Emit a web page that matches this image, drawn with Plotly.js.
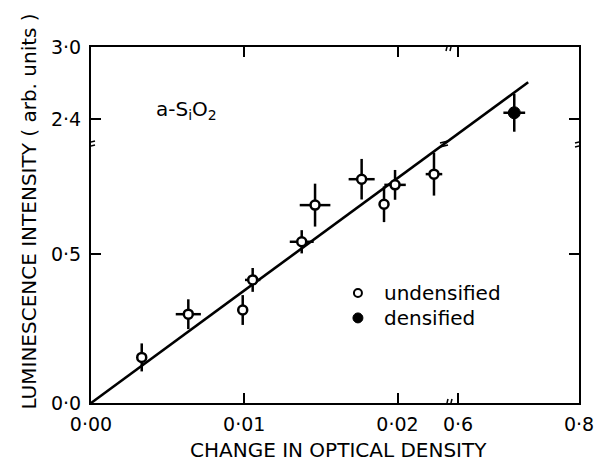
<!DOCTYPE html>
<html>
<head>
<meta charset="utf-8">
<script src="https://cdn.plot.ly/plotly-3.0.1.min.js"></script>
<style>html,body{margin:0;padding:0;background:#fff;}#chart{width:602px;height:463px;}</style>
</head>
<body>
<div id="chart"></div>
<script>
// ---- data ----
var undensifiedX = [0.00331, 0.00635, 0.0099, 0.01055, 0.01375, 0.01462, 0.01766, 0.01912, 0.01984, 0.02238];
var undensifiedY = [0.153, 0.298, 0.312, 0.413, 0.541, 0.664, 0.751, 0.667, 0.732, 0.768];
var undensifiedErrX = [0, 0.00082, 0, 0.0005, 0.00078, 0.001, 0.00085, 0, 0.0007, 0.00054];
var undensifiedErrY = [0.047, 0.050, 0.050, 0.040, 0.039, 0.072, 0.068, 0.060, 0.050, 0.072];
var densifiedX = [0.693];
var densifiedY = [2.452];
var densifiedErrX = [0.018];
var densifiedErrY = [0.158];
var fitX = [0, 0.716];
var fitY = [0, 2.706];
var xTickValues = [0, 0.01, 0.02, 0.6, 0.8];
var xTickLabels = ['0·00', '0·01', '0·02', '0·6', '0·8'];
var yTickValues = [0, 0.5, 2.4, 3.0];
var yTickLabels = ['0·0', '0·5', '2·4', '3·0'];
var legendLabels = ['undensified', 'densified'];

// ---- broken-axis mapping (data -> display coordinate) ----
var U06 = 2.3948, U08 = 3.1843;   // display positions of x = 0.6, 0.8
var V24 = 0.9530, V30 = 1.1946;   // display positions of y = 2.4, 3.0
var XB = 2.336, YB = 0.869;       // break positions
function fx(x){ return x < 0.3 ? x * 100 : U06 + (x - 0.6) * (U08 - U06) / 0.2; }
function fy(y){ return y < 1.5 ? y : V24 + (y - 2.4) * (V30 - V24) / 0.6; }
function ex(x, e){ return fx(x + e) - fx(x); }
function ey(y, e){ return fy(y + e) - fy(y); }

var FONT = 'DejaVu Sans';
var traces = [
  {x: fitX.map(fx), y: fitY.map(fy), mode: 'lines', line: {color: '#000', width: 2.6}, showlegend: false, hoverinfo: 'skip'},
  {x: undensifiedX.map(fx), y: undensifiedY.map(fy), mode: 'markers', name: legendLabels[0], showlegend: false,
   marker: {symbol: 'circle', size: 9, color: '#fff', line: {color: '#000', width: 2.5}},
   error_x: {type: 'data', array: undensifiedX.map(function(v,i){return ex(v, undensifiedErrX[i]);}), color: '#000', thickness: 2.5, width: 0},
   error_y: {type: 'data', array: undensifiedY.map(function(v,i){return ey(v, undensifiedErrY[i]);}), color: '#000', thickness: 2.5, width: 0}},
  {x: densifiedX.map(fx), y: densifiedY.map(fy), mode: 'markers', name: legendLabels[1], showlegend: false,
   marker: {symbol: 'circle', size: 12, color: '#000', line: {color: '#000', width: 1}},
   error_x: {type: 'data', array: densifiedX.map(function(v,i){return ex(v, densifiedErrX[i]);}), color: '#000', thickness: 2.5, width: 0},
   error_y: {type: 'data', array: densifiedY.map(function(v,i){return ey(v, densifiedErrY[i]);}), color: '#000', thickness: 2.5, width: 0}}
];

function brk(xa, ya, vertical){
  var s = [];
  [-2, 2].forEach(function(d){
    var sh = {type: 'line', xref: 'x', yref: 'y', xsizemode: 'pixel', ysizemode: 'pixel',
              xanchor: xa, yanchor: ya, line: {color: '#000', width: 1.5}};
    if (vertical){ sh.x0 = d - 1; sh.x1 = d + 1; sh.y0 = -4; sh.y1 = 4; }
    else { sh.x0 = -4; sh.x1 = 4; sh.y0 = d - 1; sh.y1 = d + 1; }
    s.push(sh);
  });
  return s;
}
var fitBreakU = fx(fitX[1]) * YB / fy(fitY[1]);
var shapes = [].concat(
  brk(XB, 0, true), brk(XB, V30, true),
  brk(0, YB, false), brk(U08, YB, false),
  brk(fitBreakU, YB, false)
);
// hand-placed key (legend)
var keyX = 0.547, keyTextX = 0.596, keyY = [0.309, 0.239];
shapes.push({type: 'circle', xref: 'paper', yref: 'paper', xsizemode: 'pixel', ysizemode: 'pixel',
  xanchor: keyX, yanchor: keyY[0], x0: -4, x1: 4, y0: -4, y1: 4, fillcolor: '#fff', line: {color: '#000', width: 2}});
shapes.push({type: 'circle', xref: 'paper', yref: 'paper', xsizemode: 'pixel', ysizemode: 'pixel',
  xanchor: keyX, yanchor: keyY[1], x0: -5, x1: 5, y0: -5, y1: 5, fillcolor: '#000', line: {color: '#000', width: 1}});

var layout = {
  width: 602, height: 463,
  margin: {l: 91, r: 23, t: 47, b: 60},
  paper_bgcolor: '#fff', plot_bgcolor: '#fff',
  font: {family: FONT, size: 20, color: '#000'},
  showlegend: false,
  xaxis: {range: [0, U08], showgrid: false, zeroline: false, showline: true, linecolor: '#000', linewidth: 2,
          mirror: 'allticks', ticks: 'inside', ticklen: 10, tickwidth: 2, tickcolor: '#000',
          tickmode: 'array', tickvals: xTickValues.map(fx), ticktext: xTickLabels,
          tickfont: {family: FONT, size: 19, color: '#000'}, ticklabelstandoff: 3},
  yaxis: {range: [0, V30], showgrid: false, zeroline: false, showline: true, linecolor: '#000', linewidth: 2,
          mirror: 'allticks', ticks: 'inside', ticklen: 10, tickwidth: 2, tickcolor: '#000',
          tickmode: 'array', tickvals: yTickValues.map(fy), ticktext: yTickLabels,
          tickfont: {family: FONT, size: 19, color: '#000'}, ticklabelstandoff: 4},
  shapes: shapes,
  annotations: [
    {text: 'CHANGE IN OPTICAL DENSITY', xref: 'paper', yref: 'paper', x: 0.508, y: -0.132,
     xanchor: 'center', yanchor: 'middle', showarrow: false, font: {family: FONT, size: 20, color: '#000'}},
    {text: 'LUMINESCENCE INTENSITY ( arb. units )', xref: 'paper', yref: 'paper', x: -0.128, y: 0.5365,
     xanchor: 'center', yanchor: 'middle', textangle: -90, showarrow: false, font: {family: FONT, size: 20, color: '#000'}},
    {text: 'a-S<sub>i</sub>O<sub>2</sub>', xref: 'paper', yref: 'paper', x: 0.129, y: 0.823,
     xanchor: 'left', yanchor: 'middle', showarrow: false, font: {family: FONT, size: 20, color: '#000'}},
    {text: legendLabels[0], xref: 'paper', yref: 'paper', x: keyTextX, y: keyY[0],
     xanchor: 'left', yanchor: 'middle', showarrow: false, font: {family: FONT, size: 20, color: '#000'}},
    {text: legendLabels[1], xref: 'paper', yref: 'paper', x: keyTextX, y: keyY[1],
     xanchor: 'left', yanchor: 'middle', showarrow: false, font: {family: FONT, size: 20, color: '#000'}}
  ]
};

Plotly.newPlot('chart', traces, layout, {staticPlot: true, displayModeBar: false});
</script>
</body>
</html>
